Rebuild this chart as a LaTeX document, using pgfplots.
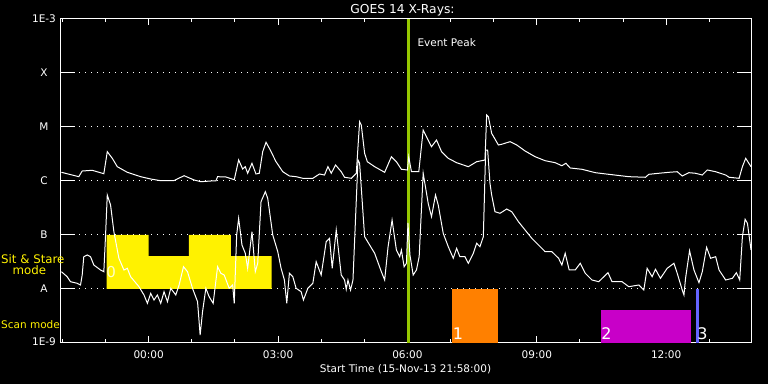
\documentclass[border=0pt]{standalone}
\usepackage{pgfplots}
\pgfplotsset{compat=1.18}
\usepackage{pgfplotstable}
\usepackage{fontspec}
\setmainfont{DejaVu Sans}
\newcommand\lf{\fontsize{10.5bp}{12bp}\selectfont}
\newcommand\ssf{\fontsize{11.8bp}{13bp}\selectfont}
\newcommand\tf{\fontsize{12.3bp}{14bp}\selectfont}
\newcommand\bigf{\fontsize{16bp}{18bp}\selectfont}
\definecolor{evgreen}{RGB}{150,200,0}
\definecolor{boxorange}{RGB}{255,128,0}
\definecolor{boxmag}{RGB}{200,0,200}
\definecolor{boxblue}{RGB}{100,100,255}

\pgfplotstableread{
h e
-2.023 -5.839
-1.621 -5.920
-1.542 -5.815
-1.309 -5.802
-1.040 -5.865
-0.960 -5.457
-0.844 -5.580
-0.728 -5.735
-0.495 -5.839
-0.186 -5.920
0.047 -5.963
0.279 -5.994
0.581 -5.994
0.821 -5.902
1.053 -5.981
1.209 -6.013
1.442 -6.000
1.558 -6.000
1.598 -5.920
1.791 -5.926
1.984 -5.976
2.086 -5.611
2.179 -5.778
2.240 -5.735
2.295 -5.857
2.395 -5.672
2.488 -5.870
2.565 -5.857
2.644 -5.457
2.721 -5.283
2.798 -5.394
2.953 -5.643
3.109 -5.828
3.263 -5.907
3.419 -5.920
3.574 -5.950
3.807 -5.950
3.960 -5.870
4.077 -5.889
4.156 -5.735
4.233 -5.857
4.333 -5.704
4.465 -5.828
4.542 -5.931
4.698 -5.950
4.814 -5.857
4.891 -4.902
4.930 -4.963
5.007 -5.487
5.070 -5.643
5.240 -5.735
5.472 -5.839
5.628 -5.550
5.744 -5.643
5.860 -5.783
6.000 -5.796
6.030 -5.550
6.093 -5.828
6.263 -5.828
6.365 -5.056
6.442 -5.180
6.558 -5.365
6.674 -5.241
6.791 -5.457
6.947 -5.580
7.140 -5.661
7.412 -5.735
7.605 -5.643
7.798 -5.611
7.837 -4.778
7.877 -4.809
7.953 -5.117
8.109 -5.333
8.186 -5.320
8.379 -5.272
8.535 -5.333
8.728 -5.444
8.960 -5.550
9.193 -5.624
9.426 -5.661
9.581 -5.717
9.674 -5.672
9.774 -5.759
10.047 -5.783
10.356 -5.846
10.667 -5.876
11.133 -5.920
11.519 -5.931
11.598 -5.876
11.830 -5.857
12.063 -5.839
12.256 -5.828
12.372 -5.907
12.528 -5.846
12.681 -5.857
12.837 -5.889
12.953 -5.796
13.147 -5.828
13.379 -5.889
13.458 -5.931
13.691 -5.950
13.767 -5.735
13.844 -5.580
13.967 -5.735
}\longch

\pgfplotstableread{
h e
-2.023 -7.680
-1.891 -7.772
-1.814 -7.865
-1.658 -7.894
-1.581 -7.926
-1.542 -7.741
-1.505 -7.402
-1.426 -7.370
-1.349 -7.402
-1.272 -7.556
-1.116 -7.648
-1.040 -7.680
-1.000 -7.000
-0.960 -6.259
-0.884 -6.444
-0.807 -6.939
-0.691 -7.431
-0.574 -7.648
-0.495 -7.617
-0.419 -7.772
-0.226 -7.957
-0.109 -8.111
-0.030 -8.265
0.047 -8.080
0.123 -8.204
0.202 -8.111
0.279 -8.265
0.356 -8.050
0.435 -8.235
0.512 -7.987
0.628 -8.111
0.705 -7.926
0.807 -7.587
0.900 -7.680
1.016 -7.987
1.133 -8.235
1.193 -8.852
1.249 -8.420
1.326 -7.987
1.402 -8.143
1.495 -8.265
1.598 -7.587
1.674 -7.709
1.751 -7.741
1.867 -7.987
1.947 -7.926
1.984 -8.265
2.040 -7.000
2.086 -6.691
2.163 -7.185
2.240 -7.339
2.295 -7.617
2.395 -6.939
2.472 -7.680
2.528 -7.524
2.605 -6.383
2.705 -6.198
2.760 -6.320
2.877 -7.000
2.993 -7.309
3.070 -7.617
3.147 -7.833
3.202 -8.265
3.263 -7.709
3.342 -7.772
3.419 -7.987
3.535 -8.050
3.588 -8.204
3.691 -7.987
3.807 -7.894
3.884 -7.494
4.000 -7.741
4.116 -7.124
4.193 -7.061
4.256 -7.617
4.349 -6.907
4.465 -7.741
4.542 -7.833
4.581 -8.006
4.621 -7.833
4.681 -8.019
4.737 -7.833
4.853 -5.611
4.891 -5.672
5.007 -7.031
5.240 -7.339
5.395 -7.680
5.472 -7.833
5.551 -7.217
5.644 -6.722
5.744 -7.278
5.821 -7.402
5.860 -7.278
5.923 -7.587
5.977 -7.524
6.012 -6.778
6.058 -7.370
6.133 -7.741
6.209 -7.648
6.272 -7.402
6.309 -6.783
6.365 -5.857
6.481 -6.413
6.558 -6.661
6.651 -6.259
6.714 -6.444
6.830 -6.969
6.947 -7.217
7.063 -7.431
7.140 -7.246
7.216 -7.402
7.333 -7.402
7.412 -7.524
7.528 -7.339
7.605 -7.154
7.681 -7.217
7.760 -7.031
7.814 -5.426
7.860 -5.426
7.914 -6.043
7.953 -6.259
8.030 -6.569
8.147 -6.598
8.302 -6.519
8.419 -6.569
8.574 -6.754
8.728 -6.907
8.884 -7.061
9.000 -7.154
9.193 -7.309
9.349 -7.309
9.505 -7.431
9.581 -7.556
9.658 -7.339
9.751 -7.648
9.891 -7.648
10.007 -7.524
10.123 -7.709
10.279 -7.833
10.435 -7.865
10.651 -7.698
10.744 -7.865
10.977 -7.865
11.133 -7.957
11.365 -7.926
11.481 -8.019
11.558 -7.617
11.674 -7.772
11.751 -7.635
11.867 -7.802
12.023 -7.617
12.179 -7.524
12.256 -7.709
12.372 -8.019
12.412 -8.111
12.449 -7.802
12.542 -7.291
12.644 -7.648
12.760 -7.883
12.837 -7.680
12.937 -7.228
13.030 -7.431
13.147 -7.402
13.226 -7.648
13.379 -7.833
13.535 -7.802
13.628 -7.698
13.705 -7.833
13.767 -7.031
13.830 -6.709
13.884 -6.783
13.967 -7.278
}\shortch

\begin{document}
\begin{tikzpicture}
\useasboundingbox (0,0) rectangle (768bp,384bp);
\fill[black] (0,0) rectangle (768bp,384bp);
\begin{axis}[
  at={(61bp,41bp)}, anchor=south west,
  scale only axis, width=690bp, height=324bp,
  xmin=-2.0333, xmax=13.9667, ymin=-9, ymax=-3,
  axis line style={white, line width=1bp},
  every tick/.style={white, line width=1bp},
  tick align=inside,
  major tick length=6.5bp, minor tick length=3.5bp,
  xtick={0,3,6,9,12},
  xticklabels={00:00,03:00,06:00,09:00,12:00},
  minor xtick={-2,-1,1,2,4,5,7,8,10,11,13},
  xtick pos=both, xticklabel pos=lower,
  xticklabel style={font=\lf, text=white, anchor=base, yshift=-16bp},
  ytick={-9,-8,-7,-6,-5,-4,-3},
  yticklabels={\raisebox{2bp}{1E-9},A,B,C,M,X,\raisebox{-3.5bp}{1E-3}},
  ytick style={draw=none},
  yticklabel pos=left,
  yticklabel style={font=\lf, text=white, anchor=center, xshift=-17bp},
  ymajorgrids=true,
  major grid style={white, line width=1bp, dash pattern=on 1bp off 5bp},
  clip=true,
]
% solid y tick segments
\pgfplotsinvokeforeach{-8,-7,-6,-5,-4}{
  \draw[white, line width=1bp] (axis cs:-2.0333,#1) -- ([xshift=14bp]axis cs:-2.0333,#1);
  \draw[white, line width=1bp] (axis cs:13.9667,#1) -- ([xshift=-14bp]axis cs:13.9667,#1);
}
% observation boxes
\addplot[fill=yellow, draw=none] coordinates {(-0.977,-8) (-0.977,-7) (0,-7) (0,-7.389) (0.930,-7.389) (0.930,-7) (1.907,-7) (1.907,-7.389) (2.853,-7.389) (2.853,-8)} -- cycle;
\addplot[fill=boxorange, draw=none] coordinates {(7.040,-9) (7.040,-8) (8.093,-8) (8.093,-9)} -- cycle;
\addplot[fill=boxmag, draw=none] coordinates {(10.488,-9) (10.488,-8.389) (12.581,-8.389) (12.581,-9)} -- cycle;
\addplot[fill=boxblue, draw=none] coordinates {(12.70,-9) (12.70,-8) (12.77,-8) (12.77,-9)} -- cycle;
\node[anchor=base west, inner sep=0, font=\fontsize{15bp}{17bp}\selectfont, text={rgb,255:red,255;green,255;blue,200}] at (axis cs:-0.986,-7.791) {0};
\node[anchor=base west, inner sep=0, font=\bigf, text=white] at (axis cs:7.051,-8.926) {1};
\node[anchor=base west, inner sep=0, font=\bigf, text=white] at (axis cs:10.49,-8.926) {2};
\node[anchor=base west, inner sep=0, font=\bigf, text=white] at (axis cs:12.72,-8.926) {3};
% event peak
\addplot[evgreen, line width=2.5bp] coordinates {(6.023,-9) (6.023,-3)};
% GOES curves
\addplot[white, line width=1bp] table[x=h, y=e] {\longch};
\addplot[white, line width=1bp] table[x=h, y=e] {\shortch};
\end{axis}
\node[anchor=base, text=white, font=\tf] at (402.5bp,370bp) {GOES 14 X-Rays:};
\node[anchor=base west, inner sep=0, text=white, font=\lf] at (417.3bp,337.3bp) {Event Peak};
\node[anchor=base, text=white, font=\lf] at (405.5bp,12bp) {Start Time (15-Nov-13 21:58:00)};
\node[anchor=base west, inner sep=0, text=yellow, font=\ssf] at (1bp,120.7bp) {Sit \& Stare};
\node[anchor=base west, inner sep=0, text=yellow, font=\ssf] at (12.5bp,109bp) {mode};
\node[anchor=base west, inner sep=0, text=yellow, font=\lf] at (1bp,55.7bp) {Scan mode};
\end{tikzpicture}
\end{document}
